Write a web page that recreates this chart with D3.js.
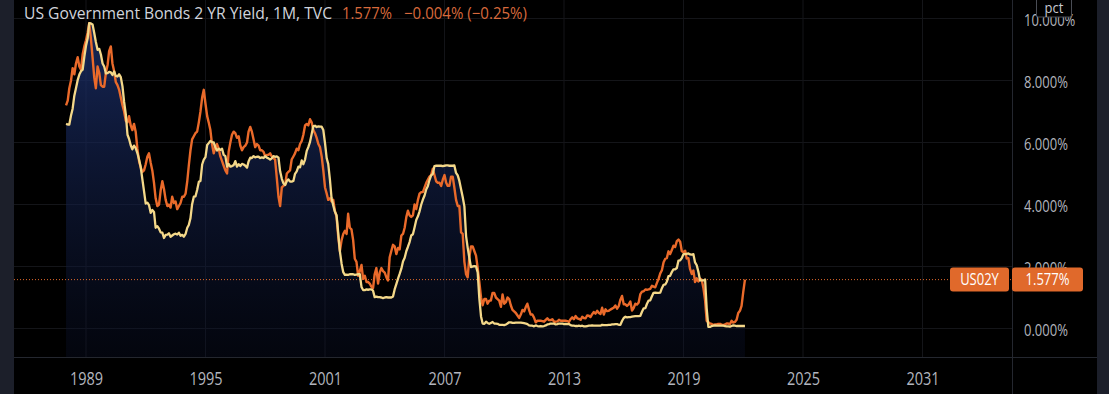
<!DOCTYPE html>
<html>
<head>
<meta charset="utf-8">
<script src="https://cdn.jsdelivr.net/npm/d3@7"></script>
<style>
  html, body { margin: 0; padding: 0; background: #000; }
  svg { display: block; }
  text { font-family: "Open Sans", "Noto Sans", sans-serif; }
</style>
</head>
<body>
<svg id="chart" width="1109" height="394"></svg>
<script>
// ---------------- DATA ----------------
const seriesStart = [1988, 0];   // first monthly bar: Jan 1988

// US 2Y yield, monthly (Jan 1988 - Feb 2022)
const us02y = [
  7.20,7.35,7.75,8.00,8.40,8.20,8.55,8.75,8.45,8.35,8.85,9.10, // 1988
  9.30,9.55,9.85,9.35,8.75,8.10,7.75,8.45,8.25,7.85,7.80,7.80, // 1989
  8.25,8.50,8.95,9.10,8.55,8.30,7.95,7.85,7.70,7.45,7.20,7.00, // 1990
  6.70,6.65,6.85,6.55,6.40,6.60,6.35,5.80,5.40,5.20,5.05,5.10, // 1991
  5.30,5.55,5.65,5.35,5.10,4.70,4.20,3.95,4.00,4.45,4.75,4.50, // 1992
  4.15,3.95,4.00,3.90,4.25,4.05,4.10,3.85,3.95,4.05,4.25,4.25, // 1993
  4.35,4.75,5.25,5.75,6.10,6.20,6.30,6.35,6.65,7.00,7.45,7.70, // 1994
  7.25,6.85,6.65,6.40,5.95,5.65,5.85,5.95,5.80,5.55,5.40,5.25, // 1995
  5.10,5.00,5.70,6.00,6.25,6.35,6.30,6.15,6.20,5.90,5.75,5.85, // 1996
  5.90,6.00,6.35,6.50,6.35,6.10,5.85,5.95,5.90,5.75,5.75,5.70, // 1997
  5.55,5.60,5.60,5.65,5.55,5.50,5.45,4.85,4.25,3.95,4.55,4.60, // 1998
  4.65,5.00,5.05,5.10,5.45,5.55,5.65,5.80,5.75,5.95,6.05,6.25, // 1999
  6.55,6.60,6.55,6.75,6.65,6.40,6.30,6.15,5.95,5.85,5.55,5.10, // 2000
  4.55,4.35,4.15,4.20,4.10,4.15,3.80,3.60,2.95,2.50,2.85,3.05, // 2001
  3.15,3.05,3.70,3.25,3.20,2.85,2.25,2.15,1.70,1.85,2.05,1.60, // 2002
  1.70,1.50,1.50,1.45,1.35,1.30,1.75,1.95,1.45,1.80,1.95,1.85, // 2003
  1.80,1.65,1.55,2.30,2.50,2.70,2.65,2.40,2.60,2.55,3.00,3.05, // 2004
  3.25,3.60,3.80,3.65,3.60,3.65,4.00,3.85,4.15,4.35,4.40,4.40, // 2005
  4.55,4.70,4.80,4.90,4.95,5.15,4.95,4.75,4.70,4.70,4.60,4.80, // 2006
  4.95,4.70,4.60,4.60,4.90,4.90,4.55,4.15,3.95,3.95,3.10,3.05, // 2007
  2.15,1.75,1.65,2.30,2.65,2.65,2.50,2.35,1.95,1.50,1.00,0.75, // 2008
  0.95,0.95,0.80,0.90,0.90,1.15,1.15,1.00,0.95,0.90,0.70,1.10, // 2009
  0.80,0.85,1.00,0.95,0.75,0.60,0.55,0.50,0.42,0.34,0.45,0.60, // 2010
  0.55,0.70,0.80,0.60,0.45,0.45,0.35,0.20,0.25,0.25,0.25,0.24, // 2011
  0.22,0.28,0.33,0.27,0.27,0.30,0.22,0.22,0.23,0.28,0.25,0.25, // 2012
  0.25,0.25,0.24,0.21,0.30,0.36,0.30,0.40,0.33,0.31,0.28,0.38, // 2013
  0.34,0.33,0.42,0.41,0.37,0.46,0.53,0.48,0.57,0.50,0.47,0.67, // 2014
  0.45,0.62,0.56,0.57,0.61,0.64,0.67,0.74,0.64,0.72,0.93,1.05, // 2015
  0.78,0.78,0.73,0.78,0.87,0.58,0.66,0.80,0.77,0.84,1.11,1.19, // 2016
  1.20,1.26,1.25,1.26,1.28,1.38,1.35,1.33,1.47,1.60,1.78,1.88, // 2017
  2.14,2.25,2.27,2.49,2.40,2.53,2.67,2.63,2.82,2.87,2.80,2.49, // 2018
  2.46,2.51,2.26,2.27,1.92,1.76,1.87,1.50,1.62,1.52,1.61,1.57, // 2019
  1.31,0.91,0.25,0.20,0.16,0.15,0.11,0.13,0.13,0.15,0.15,0.12, // 2020
  0.11,0.13,0.16,0.16,0.14,0.25,0.19,0.21,0.28,0.50,0.57,0.73, // 2021
  1.18,1.577                                                   // 2022
];

// Comparison line (effective fed funds rate), monthly (Jan 1988 - Feb 2022)
const fedFunds = [
  6.60,6.58,6.58,6.87,7.09,7.51,7.75,8.01,8.19,8.30,8.35,8.76, // 1988
  9.12,9.36,9.85,9.84,9.81,9.53,9.24,8.99,9.02,8.84,8.55,8.45, // 1989
  8.23,8.24,8.28,8.26,8.18,8.29,8.15,8.13,8.20,8.11,7.81,7.31, // 1990
  6.91,6.25,6.12,5.91,5.78,5.90,5.82,5.66,5.45,5.21,4.81,4.43, // 1991
  4.03,4.06,3.98,3.73,3.82,3.76,3.25,3.30,3.22,3.10,3.09,2.92, // 1992
  3.02,3.03,3.07,2.96,3.00,3.04,3.06,3.03,3.09,2.99,3.02,2.96, // 1993
  3.05,3.25,3.34,3.56,4.01,4.25,4.26,4.47,4.73,4.76,5.29,5.45, // 1994
  5.53,5.92,5.98,6.05,6.01,6.00,5.85,5.74,5.80,5.76,5.80,5.60, // 1995
  5.56,5.22,5.31,5.22,5.24,5.27,5.40,5.22,5.30,5.24,5.31,5.29, // 1996
  5.25,5.19,5.39,5.51,5.50,5.56,5.52,5.54,5.54,5.50,5.52,5.50, // 1997
  5.56,5.51,5.49,5.45,5.49,5.56,5.54,5.55,5.51,5.07,4.83,4.68, // 1998
  4.63,4.76,4.81,4.74,4.74,4.76,4.99,5.07,5.22,5.20,5.42,5.30, // 1999
  5.45,5.73,5.85,6.02,6.27,6.53,6.54,6.50,6.52,6.51,6.51,6.40, // 2000
  5.98,5.49,5.31,4.80,4.21,3.97,3.77,3.65,3.07,2.49,2.09,1.82, // 2001
  1.73,1.74,1.73,1.75,1.75,1.75,1.73,1.74,1.75,1.75,1.34,1.24, // 2002
  1.24,1.26,1.25,1.26,1.26,1.22,1.01,1.03,1.01,1.01,1.00,0.98, // 2003
  1.00,1.01,1.00,1.00,1.00,1.03,1.26,1.43,1.61,1.76,1.93,2.16, // 2004
  2.28,2.50,2.63,2.79,3.00,3.04,3.26,3.50,3.62,3.78,4.00,4.16, // 2005
  4.29,4.49,4.59,4.79,4.94,4.99,5.24,5.25,5.25,5.25,5.25,5.24, // 2006
  5.25,5.26,5.26,5.25,5.25,5.25,5.26,5.02,4.94,4.76,4.49,4.24, // 2007
  3.94,2.98,2.61,2.28,1.98,2.00,2.01,2.00,1.81,0.97,0.39,0.16, // 2008
  0.15,0.22,0.18,0.15,0.18,0.21,0.16,0.16,0.15,0.12,0.12,0.12, // 2009
  0.11,0.13,0.16,0.20,0.20,0.18,0.18,0.19,0.19,0.19,0.19,0.18, // 2010
  0.17,0.16,0.14,0.10,0.09,0.09,0.07,0.10,0.08,0.07,0.08,0.07, // 2011
  0.08,0.10,0.13,0.14,0.16,0.16,0.16,0.13,0.14,0.16,0.16,0.16, // 2012
  0.14,0.15,0.14,0.15,0.11,0.09,0.09,0.08,0.08,0.09,0.08,0.09, // 2013
  0.07,0.07,0.08,0.09,0.09,0.10,0.09,0.09,0.09,0.09,0.09,0.12, // 2014
  0.11,0.11,0.11,0.12,0.12,0.13,0.13,0.14,0.14,0.12,0.12,0.24, // 2015
  0.34,0.38,0.36,0.37,0.37,0.38,0.39,0.40,0.40,0.40,0.41,0.54, // 2016
  0.65,0.66,0.79,0.90,0.91,1.04,1.15,1.16,1.15,1.15,1.16,1.30, // 2017
  1.41,1.42,1.51,1.69,1.70,1.82,1.91,1.91,1.95,2.19,2.20,2.27, // 2018
  2.40,2.40,2.41,2.42,2.39,2.38,2.40,2.13,2.04,1.83,1.55,1.55, // 2019
  1.55,1.58,0.65,0.05,0.05,0.08,0.09,0.10,0.09,0.09,0.09,0.09, // 2020
  0.09,0.08,0.07,0.07,0.06,0.08,0.10,0.09,0.08,0.08,0.08,0.08, // 2021
  0.08,0.08                                                    // 2022
];

const yearTicks = [1989, 1995, 2001, 2007, 2013, 2019, 2025, 2031];
const pctTicks = [0, 2, 4, 6, 8, 10];

const titleText = "US Government Bonds 2 YR Yield, 1M, TVC";
const lastText = "1.577%";
const changeText = "\u22120.004% (\u22120.25%)";
const symbolLabel = "US02Y";
const unitLabel = "pct";
const lastValue = 1.577;

// ---------------- LAYOUT ----------------
const W = 1109, H = 394;
const plotLeft = 14, plotRight = 1012, plotBottom = 357, paneRight = 1097;

const svg = d3.select("#chart");

const toDate = i => new Date(seriesStart[0], seriesStart[1] + i, 1);
const orangeData = us02y.map((v, i) => ({ d: toDate(i), v }));
const yellowData = fedFunds.map((v, i) => ({ d: toDate(i), v }));

const x = d3.scaleTime()
  .domain([new Date(1989, 0, 1), new Date(2031, 0, 1)])
  .range([86, 922.5]);
const y = d3.scaleLinear().domain([0, 10]).range([328.5, 18.5]);

// backgrounds
svg.append("rect").attr("width", W).attr("height", H).attr("fill", "#000");
svg.append("rect").attr("x", 0).attr("y", 0).attr("width", plotLeft).attr("height", H).attr("fill", "#1c1f2a");
svg.append("rect").attr("x", paneRight).attr("y", 0).attr("width", W - paneRight).attr("height", H).attr("fill", "#1c1f2a");

// grid
const grid = svg.append("g");
grid.selectAll("line.h").data(pctTicks).join("line")
  .attr("x1", plotLeft).attr("x2", plotRight)
  .attr("y1", d => y(d)).attr("y2", d => y(d))
  .attr("stroke", "#141519").attr("stroke-width", 1);
grid.selectAll("line.v").data(yearTicks).join("line")
  .attr("x1", d => x(new Date(d, 0, 1))).attr("x2", d => x(new Date(d, 0, 1)))
  .attr("y1", 0).attr("y2", plotBottom)
  .attr("stroke", "#141519").attr("stroke-width", 1);

// separators
svg.append("line").attr("x1", plotRight + 0.5).attr("x2", plotRight + 0.5).attr("y1", 0).attr("y2", H)
  .attr("stroke", "#24272f");
svg.append("line").attr("x1", plotLeft).attr("x2", paneRight).attr("y1", plotBottom + 0.5).attr("y2", plotBottom + 0.5)
  .attr("stroke", "#24272f");

// area gradient under comparison line
const defs = svg.append("defs");
const grad = defs.append("linearGradient").attr("id", "areaGrad")
  .attr("gradientUnits", "userSpaceOnUse")
  .attr("x1", 0).attr("x2", 0).attr("y1", y(10)).attr("y2", plotBottom);
grad.append("stop").attr("offset", "0%").attr("stop-color", "#1d3270").attr("stop-opacity", 0.8);
grad.append("stop").attr("offset", "100%").attr("stop-color", "#0a1028").attr("stop-opacity", 0.35);

const area = d3.area().x(d => x(d.d)).y0(plotBottom).y1(d => y(d.v));
svg.append("path").datum(yellowData).attr("d", area).attr("fill", "url(#areaGrad)");

// last price dotted line
svg.append("line")
  .attr("x1", plotLeft).attr("x2", plotRight)
  .attr("y1", y(lastValue)).attr("y2", y(lastValue))
  .attr("stroke", "#e0692b").attr("stroke-width", 1).attr("stroke-dasharray", "1,2");

// lines
const line = d3.line().x(d => x(d.d)).y(d => y(d.v));
svg.append("path").datum(orangeData).attr("d", line)
  .attr("fill", "none").attr("stroke", "#ea6a2a").attr("stroke-width", 2.4).attr("stroke-linejoin", "round");
svg.append("path").datum(yellowData).attr("d", line)
  .attr("fill", "none").attr("stroke", "#f4d889").attr("stroke-width", 2.3).attr("stroke-linejoin", "round");

// helper for vertically stretched text
function stretchedText(g, tx, ty, str, size, sy, fill, anchor, len) {
  const t = g.append("text")
    .attr("transform", `translate(${tx},${ty}) scale(1,${sy})`)
    .attr("font-size", size).attr("fill", fill)
    .attr("text-anchor", anchor || "start")
    .text(str);
  if (len) t.attr("textLength", len).attr("lengthAdjust", "spacingAndGlyphs");
  return t;
}

// y axis
const yAxis = d3.axisRight(y).tickValues(pctTicks).tickSize(0).tickPadding(0)
  .tickFormat(d => d3.format(".3f")(d) + "%");
const yg = svg.append("g").attr("transform", `translate(1024,0)`).call(yAxis);
yg.select(".domain").remove();
yg.selectAll("text")
  .attr("fill", "#b2b5be").attr("font-size", 13)
  .attr("font-family", "'Open Sans', sans-serif")
  .attr("dy", null).attr("dominant-baseline", "central")
  .attr("transform", "scale(1,1.22)")
  .attr("y", 0);
yg.selectAll(".tick").each(function(d) {
  d3.select(this).attr("transform", `translate(0,${y(d) + 1})`);
});

// x axis
const xAxis = d3.axisBottom(x).tickValues(yearTicks.map(yy => new Date(yy, 0, 1)))
  .tickSize(0).tickPadding(0).tickFormat(d3.timeFormat("%Y"));
const xg = svg.append("g").attr("transform", `translate(0,385)`).call(xAxis);
xg.select(".domain").remove();
xg.selectAll("text")
  .attr("fill", "#b2b5be").attr("font-size", 14.5)
  .attr("font-family", "'Open Sans', sans-serif")
  .attr("dy", 0).attr("y", 0)
  .attr("transform", "scale(1,1.3)");

// "pct" box over top label
const pg = svg.append("g");
pg.append("rect").attr("x", 1036.5).attr("y", -4).attr("width", 35).attr("height", 21).attr("rx", 2)
  .attr("fill", "#000").attr("stroke", "#4a4d55");
stretchedText(pg, 1054, 13, unitLabel, 13, 1.15, "#c7cad1", "middle");

// last value labels
const ly = y(lastValue);
const lg = svg.append("g");
lg.append("rect").attr("x", 950).attr("y", ly - 12).attr("width", 59).attr("height", 24).attr("rx", 3).attr("fill", "#e0692b");
lg.append("rect").attr("x", 1012).attr("y", ly - 12).attr("width", 71).attr("height", 24).attr("rx", 3).attr("fill", "#e0692b");
stretchedText(lg, 979.5, ly + 5.5, symbolLabel, 13, 1.22, "#ffffff", "middle");
stretchedText(lg, 1047.5, ly + 5.5, lastText, 13, 1.22, "#ffffff", "middle");

// title
const tg = svg.append("g");
stretchedText(tg, 24, 18.5, titleText, 14.8, 1.08, "#d1d4dc", "start", 308);
stretchedText(tg, 342, 18.5, lastText, 14.8, 1.08, "#d86a3c", "start", 50);
stretchedText(tg, 404, 18.5, changeText, 14.8, 1.08, "#d86a3c", "start", 123);
</script>
</body>
</html>
